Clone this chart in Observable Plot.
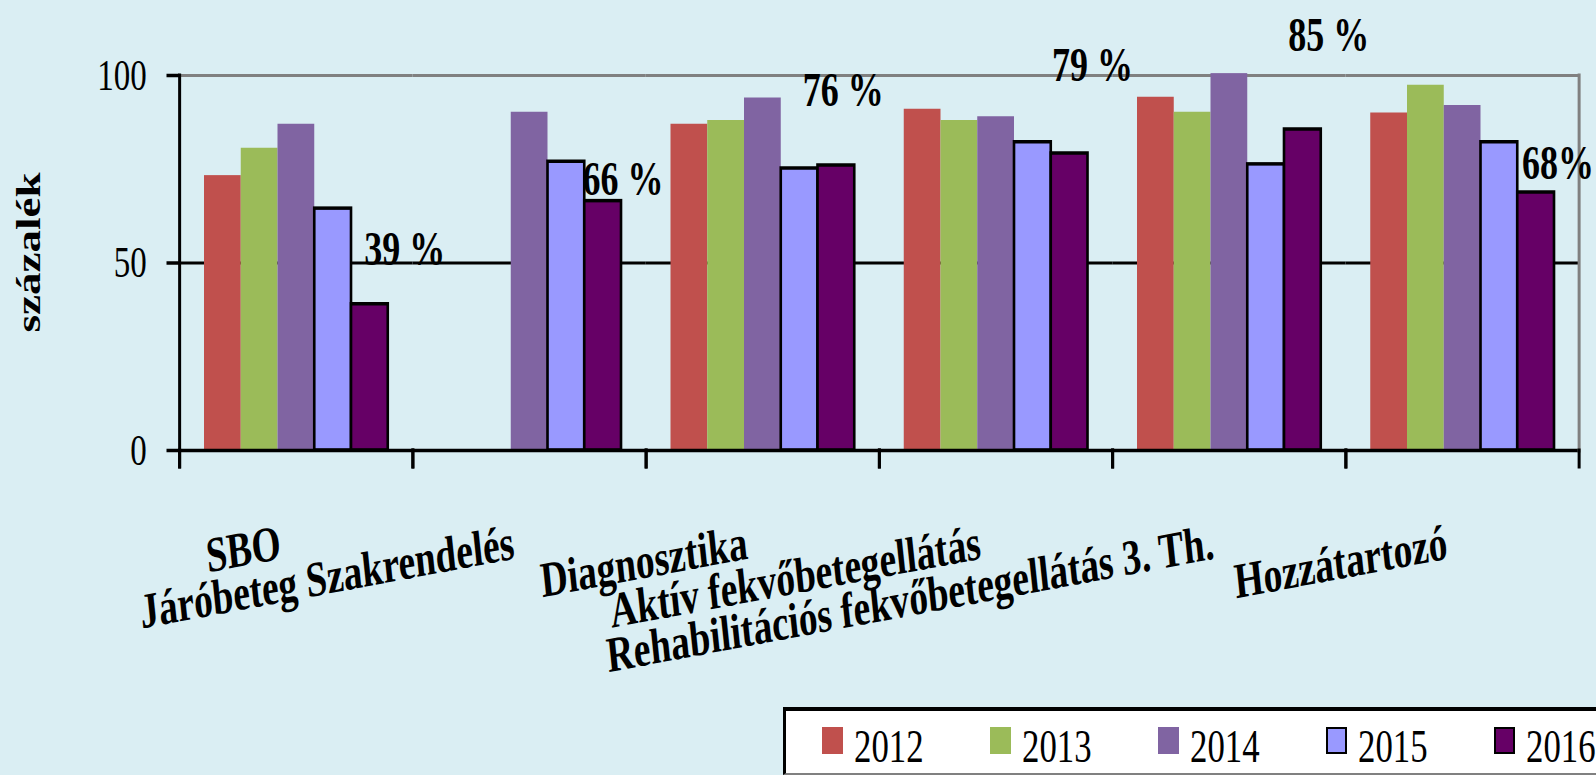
<!DOCTYPE html>
<html>
<head>
<meta charset="utf-8">
<script src="https://cdn.jsdelivr.net/npm/d3@7"></script>
<script src="https://cdn.jsdelivr.net/npm/@observablehq/plot@0.6"></script>
<style>
  html, body { margin: 0; padding: 0; background: #DAEEF3; overflow: hidden; width: 1596px; height: 775px; }
  #wrap { position: relative; width: 1596px; height: 775px; overflow: hidden; }
  #legend { position: absolute; left: 783px; top: 707px; width: 900px; height: 68px; box-sizing: border-box;
            background: white; border-top: 4px solid black; border-left: 3px solid black; border-bottom: 2px solid #808080; }
  .sw { position: absolute; top: 16px; width: 21px; height: 27px; box-sizing: border-box; }
  .lt { position: absolute; top: 12px; font-family: "Liberation Serif", "Times New Roman", serif; font-size: 47px;
        line-height: 1; transform: scaleX(0.74); transform-origin: 0 0; white-space: nowrap; color: black; }
</style>
</head>
<body>
<div id="wrap"><div id="chart"></div><div id="legend"></div></div>
<script>
// ---- data ----
const categories = ["SBO", "Járóbeteg Szakrendelés", "Diagnosztika", "Aktív fekvőbetegellátás",
                    "Rehabilitációs fekvőbetegellátás 3. Th.", "Hozzátartozó"];
const years = ["2012", "2013", "2014", "2015", "2016"];
const values2012 = [73.3, null, 87, 91, 94.2, 90];
const values2013 = [80.6, null, 88, 88, 90.2, 97.4];
const values2014 = [87, 90.2, 94, 89, 100.5, 92];
const values2015 = [64.5, 77, 75.2, 82.2, 76.3, 82.2];
const values2016 = [39, 66.5, 76, 79.2, 85.6, 68.8];
const labels2016 = ["39 %", "66 %", "76 %", "79 %", "85 %", "68%"];
const yTicks = [0, 50, 100];
const yTitle = "százalék";
const colors = ["#C0504D", "#9BBB59", "#8064A2", "#9999FF", "#660066"];

// ---- build table ----
const series = [values2012, values2013, values2014, values2015, values2016];
const rows = [];
categories.forEach((c, i) => years.forEach((yr, j) => {
  const v = series[j][i];
  if (v != null) rows.push({category: c, year: yr, value: v});
}));
const rows2016 = rows.filter(d => d.year === "2016").map((d, i) => ({...d, label: labels2016[i]}));

// drawn wide, then squeezed horizontally (like the original picture)
const W = 2128, H = 775, SX = 1596 / W;
const px = v => v / SX;
const font = "'Liberation Serif', 'Times New Roman', serif";

// annotation placement relative to the 2016 bar top (final px)
const annotationOffsets = [[35, -39], [20, -6], [7, -60], [23, -73], [26, -79], [22, -14]];

const chart = Plot.plot({
  width: W, height: H,
  marginTop: 75, marginBottom: 325, marginLeft: 237, marginRight: 21,
  style: {background: "#DAEEF3", fontFamily: font, color: "black", overflow: "visible"},
  fx: {domain: categories, padding: 0, axis: null},
  x: {domain: years, paddingInner: 0, paddingOuter: 0.66, axis: null},
  y: {domain: [0, 100]},
  color: {domain: years, range: colors},
  marks: [
    Plot.ruleY([100], {stroke: "#808080", strokeWidth: 3}),
    Plot.ruleY([50], {stroke: "black", strokeWidth: 3}),
    Plot.barY(rows.filter(d => d.year < "2015"), {fx: "category", x: "year", y: "value", fill: "year", inset: 0}),
    Plot.barY(rows.filter(d => d.year >= "2015"), {fx: "category", x: "year", y: "value", fill: "year", inset: 0,
      stroke: "black", strokeWidth: 3.5}),
    Plot.ruleY([0], {stroke: "black", strokeWidth: 3.5}),
    Plot.frame({anchor: "right", fx: [categories[categories.length - 1]], stroke: "#808080", strokeWidth: 4}),
    Plot.frame({anchor: "left", insetTop: 375, insetBottom: -16, stroke: "black", strokeWidth: 4}),
    Plot.frame({anchor: "right", insetTop: 375, insetBottom: -16, stroke: "black", strokeWidth: 4}),
    Plot.frame({anchor: "left", fx: [categories[0]], insetBottom: -16, stroke: "black", strokeWidth: 4}),
    Plot.axisY({ticks: yTicks, tickSize: 17, tickPadding: 27, fontSize: 44, strokeWidth: 3.5, label: null, anchor: "left"}),
    Plot.text([yTitle], {fx: [categories[0]], text: d => d, frameAnchor: "left", textAnchor: "middle",
      lineAnchor: "middle", rotate: -90, dx: -201, dy: -10.5, fontWeight: "bold", fontSize: 45}),
    Plot.text(categories, {fx: d => d, text: d => d, frameAnchor: "bottom", textAnchor: "end", lineAnchor: "bottom",
      rotate: -8, dx: px(-14), dy: 108, fontWeight: "bold", fontSize: 50}),
    ...rows2016.map((d, i) => Plot.text([d], {fx: "category", x: "year", y: "value", text: "label",
      dx: px(annotationOffsets[i][0]), dy: annotationOffsets[i][1], lineAnchor: "bottom",
      fontWeight: "bold", fontSize: 48}))
  ]
});
chart.setAttribute("width", 1596);
chart.setAttribute("height", 775);
chart.setAttribute("preserveAspectRatio", "none");
chart.style.width = "1596px";
chart.style.height = "775px";
chart.style.maxWidth = "none";
document.getElementById("chart").appendChild(chart);

// legend
const legend = document.getElementById("legend");
years.forEach((yr, i) => {
  const sw = document.createElement("div");
  sw.className = "sw";
  sw.style.left = (36 + 168 * i) + "px";
  sw.style.background = colors[i];
  if (i >= 3) sw.style.border = "2.5px solid black";
  legend.appendChild(sw);
  const t = document.createElement("div");
  t.className = "lt";
  t.style.left = (68 + 168 * i) + "px";
  t.textContent = yr;
  legend.appendChild(t);
});
</script>
</body>
</html>
